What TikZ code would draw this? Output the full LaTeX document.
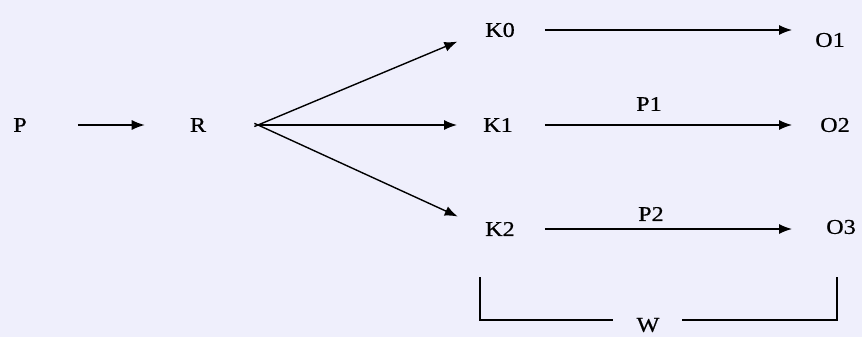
\documentclass[tikz,border=0pt]{standalone}
\usepackage{fontspec}
\setmainfont{Liberation Serif}[FakeStretch=1.15,FakeBold=0.6]
\usetikzlibrary{arrows.meta}
\definecolor{bgc}{RGB}{239,239,252}
\begin{document}
\begin{tikzpicture}[x=1pt,y=-1pt,
  lbl/.style={inner sep=0pt,font=\fontsize{21}{23}\selectfont},
  arr/.style={line width=1.4pt,-{Latex[length=13pt,width=10pt]}},
  brk/.style={line width=1.2pt}]
\fill[bgc] (0,0) rectangle (862,337);
\useasboundingbox (0,0) rectangle (862,337);
% left part
\node[lbl] (P) at (20,125) {P};
\node[lbl] (R) at (198,125) {R};
\coordinate (F) at (258,125);
% K nodes
\node[lbl] (K0) at (500,30) {K0};
\node[lbl] (K1) at (498,125) {K1};
\node[lbl] (K2) at (500,229) {K2};
% O nodes
\node[lbl] (O1) at (830,40) {O1};
\node[lbl] (O2) at (835,125) {O2};
\node[lbl] (O3) at (841,227) {O3};
% labels
\node[lbl] (P1) at (649,104) {P1};
\node[lbl] (P2) at (651,214) {P2};
% arrows
\draw[arr, shorten <=51pt, shorten >=45pt] (P.east) -- (R.west);
\draw[arr, shorten <=-4pt, shorten >=30pt] (F) -- (K0.west);
\draw[arr, shorten >=26pt] (F) -- (K1.west);
\draw[arr, shorten <=-4pt, shorten >=30pt] (F) -- (K2.west);
\draw[arr, shorten <=30pt, shorten >=23pt] (K0.east) -- (K0.east -| O1.west);
\draw[arr, shorten <=32pt, shorten >=28pt] (K1.east) -- (K1.east -| O2.west);
\draw[arr, shorten <=30pt, shorten >=34pt] (K2.east) -- (K2.east -| O3.west);
% bracket
\node[lbl] (W) at (648,325) {W};
\coordinate (BLt) at (480,277);
\coordinate (BLb) at (480,320);
\coordinate (WL) at (613,320);
\coordinate (WR) at (682,320);
\coordinate (BRb) at (837,320);
\coordinate (BRt) at (837,277);
\draw[brk] (BLt) -- (BLb) -- (WL);
\draw[brk] (WR) -- (BRb) -- (BRt);
\end{tikzpicture}
\end{document}
